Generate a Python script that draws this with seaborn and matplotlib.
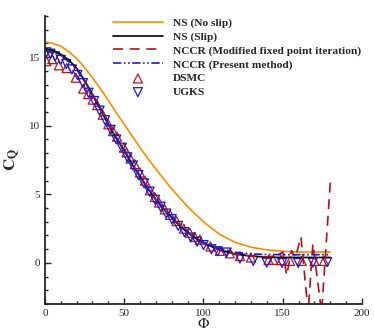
import matplotlib
matplotlib.use("Agg")
import matplotlib.pyplot as plt
import seaborn as sns
from matplotlib.ticker import MultipleLocator

# curves
phi_ns = [0, 5, 10, 15, 20, 25, 30, 35, 40, 45, 50, 55, 60, 65, 70, 75, 80, 85,
          90, 95, 100, 110, 120, 130, 140, 150, 160, 170, 180]
ns_noslip = [16.1, 16.0, 15.8, 15.4, 14.9, 14.25, 13.5, 12.7, 11.85, 10.95, 10.1, 9.25,
             8.4, 7.6, 6.85, 6.1, 5.4, 4.75, 4.1, 3.55, 3.0, 2.1, 1.5, 1.15, 0.95, 0.85,
             0.8, 0.8, 0.8]
ns_slip = [15.6, 15.5, 15.2, 14.8, 14.2, 13.3, 12.3, 11.2, 10.1, 9.1, 8.2, 7.2,
           6.3, 5.4, 4.6, 3.9, 3.3, 2.7, 2.2, 1.8, 1.45, 0.95, 0.65, 0.5, 0.42, 0.4,
           0.4, 0.4, 0.4]
nccr_present = [15.45, 15.35, 15.1, 14.7, 14.1, 13.25, 12.25, 11.2, 10.1, 9.1, 8.2, 7.25,
                6.35, 5.45, 4.65, 3.95, 3.35, 2.75, 2.25, 1.85, 1.5, 1.05, 0.78, 0.65, 0.62, 0.6,
                0.6, 0.6, 0.6]

phi_mfp = [0, 10, 20, 30, 40, 50, 60, 70, 80, 90, 100, 110, 120, 130, 140, 146,
           150, 152.5, 155.5, 158, 161.5, 166, 169, 174.5, 180]
nccr_mfp = [15.5, 15.15, 14.15, 12.3, 10.1, 8.2, 6.3, 4.6, 3.3, 2.2, 1.45, 0.95, 0.65,
            0.5, 0.45, 0.5, 0.8, -0.9, 0.9, 0.4, 1.9, -3.6, 1.4, -3.6, 5.9]

# DSMC / UGKS symbols
phi_dsmc = [1, 4.6, 8.8, 13.7, 19.5, 24.2, 27.3, 30.2, 33, 36.5, 40, 43, 45.5, 49.8,
            51.5, 54, 56.7, 59.9, 63, 66.2, 69.3, 72, 75.6, 79, 83, 87.6, 91.4, 94.5,
            97.7, 104.4, 110.3, 116.6, 123, 130, 141, 144, 149, 154.6, 162, 170, 176]
cq_dsmc = [14.7, 14.85, 14.4, 14.2, 13.5, 12.7, 12.3, 11.9, 11.5, 10.8, 10.1, 9.6, 9.2,
           8.4, 8.05, 7.6, 7.2, 6.6, 6.0, 5.3, 4.8, 4.4, 3.9, 3.5, 3.05, 2.5, 2.2, 1.9,
           1.7, 1.2, 0.88, 0.7, 0.5, 0.4, 0.22, 0.22, 0.2, 0.15, 0.15, 0.15, 0.15]

phi_ugks = [1, 3.5, 6.5, 10, 13.5, 17, 20.5, 24, 27.5, 31, 34.5, 38, 41.5, 45, 48.5,
            52, 55.5, 59, 62.5, 66, 69.5, 73, 76.5, 80, 84, 88, 92, 96, 100, 105, 109,
            114.6, 123, 131.4, 139.9, 149.6, 159.8, 169, 178]
cq_ugks = [15.35, 15.25, 15.05, 14.8, 14.5, 14.1, 13.7, 13.1, 12.4, 11.8, 11.1, 10.4,
           9.7, 9.0, 8.4, 7.7, 7.1, 6.4, 5.8, 5.2, 4.6, 4.1, 3.6, 3.2, 2.7, 2.25, 1.85,
           1.55, 1.3, 1.0, 0.85, 0.76, 0.32, 0.15, 0.02, 0.0, 0.0, 0.02, 0.05]

sns.set_style("ticks")
plt.rcParams["font.family"] = ["Liberation Serif", "DejaVu Serif"]
plt.rcParams["mathtext.fontset"] = "stix"

fig = plt.figure(figsize=(3.74, 3.32), dpi=100)
ax = fig.add_axes([0.12, 0.084, 0.848, 0.868])

sns.lineplot(x=phi_ns, y=ns_noslip, color="#ff8c00", linewidth=1.2, sort=False,
             label="NS (No slip)", ax=ax)
sns.lineplot(x=phi_ns, y=ns_slip, color="black", linewidth=1.2, sort=False,
             label="NS (Slip)", ax=ax)
sns.lineplot(x=phi_mfp, y=nccr_mfp, color="#b0101a", linewidth=1.2, sort=False,
             linestyle=(0, (6, 4)), label="NCCR (Modified fixed point iteration)", ax=ax)
sns.lineplot(x=phi_ns, y=nccr_present, color="#1a1acc", linewidth=1.2, sort=False,
             linestyle=(0, (5, 1.5, 1, 1.5, 1, 1.5)), label="NCCR (Present method)", ax=ax)
sns.scatterplot(x=phi_dsmc, y=cq_dsmc, marker="^", s=42, facecolor="none",
                edgecolor="#c0141e", linewidth=0.9, label="DSMC", ax=ax)
sns.scatterplot(x=phi_ugks, y=cq_ugks, marker="v", s=42, facecolor="none",
                edgecolor="#1a1acc", linewidth=0.9, label="UGKS", ax=ax)

ax.set_xlim(0, 200)
ax.set_ylim(-3, 18)
ax.xaxis.set_major_locator(MultipleLocator(50))
ax.xaxis.set_minor_locator(MultipleLocator(10))
ax.yaxis.set_major_locator(MultipleLocator(5))
ax.yaxis.set_minor_locator(MultipleLocator(1))
ax.tick_params(which="both", direction="in", labelsize=8, width=1)
ax.tick_params(which="major", length=4)
ax.tick_params(which="minor", length=2.5)
sns.despine(ax=ax)
for sp in ("left", "bottom"):
    ax.spines[sp].set_linewidth(1.3)

ax.set_xlabel(r"$\Phi$", fontsize=11, labelpad=-1)
ax.set_ylabel(r"$\mathbf{C_Q}$", fontsize=12, labelpad=6)

leg = ax.legend(loc="upper right", bbox_to_anchor=(1.03, 1.03), frameon=False,
                prop={"weight": "bold", "size": 8.2}, handlelength=4.4,
                labelspacing=0.33, handletextpad=0.9)

fig.savefig("out.png", dpi=100)
